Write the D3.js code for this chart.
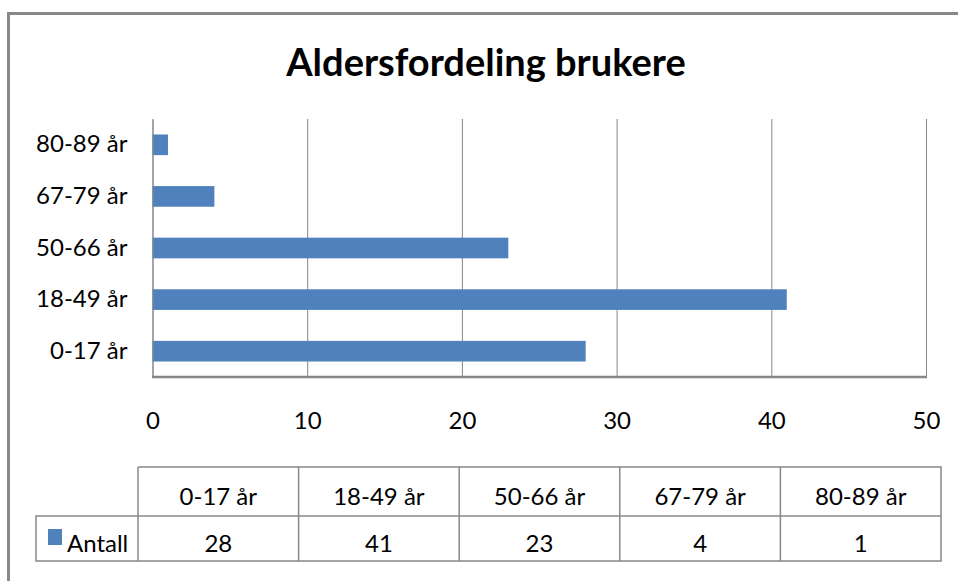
<!DOCTYPE html>
<html>
<head>
<meta charset="utf-8">
<script src="https://cdn.jsdelivr.net/npm/d3@7"></script>
<style>
    body { margin: 0; background: #fff; }
    svg { display: block; font-family: Lato, "Open Sans", sans-serif; }
</style>
</head>
<body>
<div id="visualization"></div>
<script>
// Podatki
const chartTitle = "Aldersfordeling brukere";
const categories = ["0-17 år", "18-49 år", "50-66 år", "67-79 år", "80-89 år"];
const seriesName = "Antall";
const values = [28, 41, 23, 4, 1];
const xTicks = [0, 10, 20, 30, 40, 50];

function createBarChart() {
    const width = 958;
    const height = 581;
    const plot = { left: 152.5, right: 926, top: 119, bottom: 377 };
    const table = { left: 138, right: 941, legendLeft: 36, top: 467, mid: 516, bottom: 561 };
    const gridColor = "#868686";
    const barColor = "#4f81bd";
    const fontSize = 24;

    const data = categories.map((c, i) => ({ category: c, value: values[i] }));

    const svg = d3.select("#visualization")
        .append("svg")
        .attr("width", width)
        .attr("height", height);

    // Okvir grafa
    svg.append("path")
        .attr("d", `M8.5,${height} V13.5 H${width}`)
        .attr("fill", "none")
        .attr("stroke", "#888")
        .attr("stroke-width", 3);

    // Naslov
    svg.append("text")
        .attr("x", 486)
        .attr("y", 76)
        .attr("text-anchor", "middle")
        .attr("font-size", 38)
        .attr("font-weight", "bold")
        .attr("fill", "#000")
        .text(chartTitle);

    // Lestvici
    const xScale = d3.scaleLinear()
        .domain([0, d3.max(xTicks)])
        .range([plot.left, plot.right]);

    const yScale = d3.scaleBand()
        .domain(categories.slice().reverse())
        .range([plot.top, plot.bottom])
        .paddingInner(0.6)
        .paddingOuter(0.3);

    // x os z mrežo
    const xAxis = svg.append("g")
        .attr("transform", `translate(0,${plot.bottom})`)
        .call(d3.axisBottom(xScale)
            .tickValues(xTicks)
            .tickSizeInner(-(plot.bottom - plot.top))
            .tickSizeOuter(0)
            .tickPadding(35));
    xAxis.select(".domain").remove();
    xAxis.selectAll(".tick line").attr("stroke", gridColor);
    xAxis.selectAll("text")
        .attr("font-size", fontSize)
        .attr("font-family", "Lato, sans-serif")
        .attr("fill", "#000");

    // Stolpci
    svg.selectAll(".bar")
        .data(data)
        .enter()
        .append("rect")
        .attr("class", "bar")
        .attr("x", xScale(0))
        .attr("y", d => yScale(d.category))
        .attr("width", d => xScale(d.value) - xScale(0))
        .attr("height", yScale.bandwidth())
        .attr("fill", barColor);

    // y os
    const yAxis = svg.append("g")
        .attr("transform", `translate(${plot.left},0)`)
        .call(d3.axisLeft(yScale).tickSize(0).tickPadding(25));
    yAxis.select(".domain").attr("stroke", gridColor);
    yAxis.selectAll("text")
        .attr("font-size", fontSize)
        .attr("font-family", "Lato, sans-serif")
        .attr("fill", "#000");

    // spodnja črta osi
    svg.append("line")
        .attr("x1", plot.left - 0.5)
        .attr("x2", plot.right + 1)
        .attr("y1", plot.bottom)
        .attr("y2", plot.bottom)
        .attr("stroke", gridColor)
        .attr("stroke-width", 2.5);

    // Tabela s podatki
    const colScale = d3.scaleBand()
        .domain(categories)
        .range([table.left, table.right]);

    const tg = svg.append("g")
        .attr("stroke", "#888")
        .attr("stroke-width", 1.5)
        .attr("fill", "none");

    tg.append("path")
        .attr("d", `M${table.left},${table.top} H${table.right} V${table.bottom} H${table.legendLeft} V${table.mid} H${table.right}`);

    tg.selectAll(".col")
        .data(categories)
        .enter()
        .append("line")
        .attr("x1", d => colScale(d))
        .attr("x2", d => colScale(d))
        .attr("y1", table.top)
        .attr("y2", table.bottom);

    svg.selectAll(".head")
        .data(data)
        .enter()
        .append("text")
        .attr("x", d => colScale(d.category) + colScale.bandwidth() / 2)
        .attr("y", 505)
        .attr("text-anchor", "middle")
        .attr("font-size", fontSize)
        .attr("fill", "#000")
        .text(d => d.category);

    svg.selectAll(".val")
        .data(data)
        .enter()
        .append("text")
        .attr("x", d => colScale(d.category) + colScale.bandwidth() / 2)
        .attr("y", 552)
        .attr("text-anchor", "middle")
        .attr("font-size", fontSize)
        .attr("fill", "#000")
        .text(d => d.value);

    // Legenda v tabeli
    svg.append("rect")
        .attr("x", 48)
        .attr("y", 529)
        .attr("width", 14)
        .attr("height", 16)
        .attr("fill", barColor);

    svg.append("text")
        .attr("x", 67)
        .attr("y", 552)
        .attr("font-size", fontSize)
        .attr("fill", "#000")
        .text(seriesName);
}

createBarChart();
</script>
</body>
</html>
